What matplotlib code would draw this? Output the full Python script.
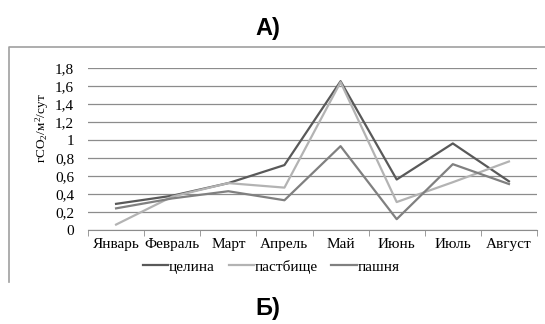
import matplotlib
matplotlib.use("Agg")
import matplotlib.pyplot as plt
from matplotlib.lines import Line2D
from matplotlib.ticker import FixedLocator, NullFormatter

months = ["Январь", "Февраль", "Март", "Апрель", "Май", "Июнь", "Июль", "Август"]
tselina = [0.29, 0.38, 0.52, 0.72, 1.65, 0.56, 0.96, 0.54]
pastbishche = [0.06, 0.37, 0.52, 0.47, 1.64, 0.31, 0.53, 0.76]
pashnya = [0.24, 0.35, 0.43, 0.33, 0.93, 0.12, 0.73, 0.51]
series_names = ["целина", "пастбище", "пашня"]
yticks = [0, 0.2, 0.4, 0.6, 0.8, 1.0, 1.2, 1.4, 1.6, 1.8]

serif = ["Liberation Serif", "DejaVu Serif"]
colors = ["#595959", "#b3b3b3", "#808080"]

plt.rcParams["mathtext.fontset"] = "custom"
plt.rcParams["mathtext.rm"] = "Liberation Serif"
plt.rcParams["mathtext.it"] = "Liberation Serif"

fig = plt.figure(figsize=(5.45, 3.24), dpi=100)
fig.patch.set_facecolor("white")

# outer frame of the chart area (left and top edges)
fig.add_artist(Line2D([9 / 545, 9 / 545, 1.0], [1 - 282 / 324, 1 - 47 / 324, 1 - 47 / 324],
                      transform=fig.transFigure, color="#a0a0a0", lw=1.2))

ax = fig.add_axes([88 / 545, 1 - 230 / 324, (537 - 88) / 545, (230 - 67.7) / 324])
x = list(range(len(months)))
for vals, c, name in zip([tselina, pastbishche, pashnya], colors, series_names):
    ax.plot(x, vals, color=c, lw=1.6, label=name, zorder=3)

ax.set_xlim(-0.5, len(months) - 0.5)
ax.set_ylim(0, 1.8)
ax.set_yticks(yticks)
ax.set_yticklabels([("%g" % v).replace(".", ",") for v in yticks], fontfamily=serif, fontsize=11)
ax.yaxis.grid(True, color="#8c8c8c", lw=0.9)
ax.set_axisbelow(True)
ax.tick_params(axis="y", length=0, pad=10)

ax.set_xticks(x)
ax.set_xticklabels(months, fontfamily=serif, fontsize=11)
ax.tick_params(axis="x", which="major", length=0, pad=6)
ax.xaxis.set_minor_locator(FixedLocator([i - 0.5 for i in range(len(months) + 1)]))
ax.xaxis.set_minor_formatter(NullFormatter())
ax.tick_params(axis="x", which="minor", length=4, color="#8c8c8c", direction="out")

for s in ["top", "right"]:
    ax.spines[s].set_visible(False)
for s in ["left", "bottom"]:
    ax.spines[s].set_color("#8c8c8c")
ax.spines["left"].set_visible(False)

ax.set_ylabel("гCO$_2$/м$^2$/сут", fontfamily=serif, fontsize=9.5, va="center")
ax.yaxis.set_label_coords(-0.102, 0.63)

leg = ax.legend(loc="center", bbox_to_anchor=(0.408, -0.225), ncol=3, frameon=False,
                prop={"family": serif, "size": 11}, handlelength=1.65, handletextpad=0.05,
                columnspacing=0.9)

fig.text(268 / 545, 1 - 28 / 324, "А)", ha="center", va="center", fontsize=17,
         fontweight="bold", fontfamily="Liberation Sans")
fig.text(268 / 545, 1 - 308 / 324, "Б)", ha="center", va="center", fontsize=17,
         fontweight="bold", fontfamily="Liberation Sans")

fig.savefig("out.png", dpi=100, facecolor="white")
